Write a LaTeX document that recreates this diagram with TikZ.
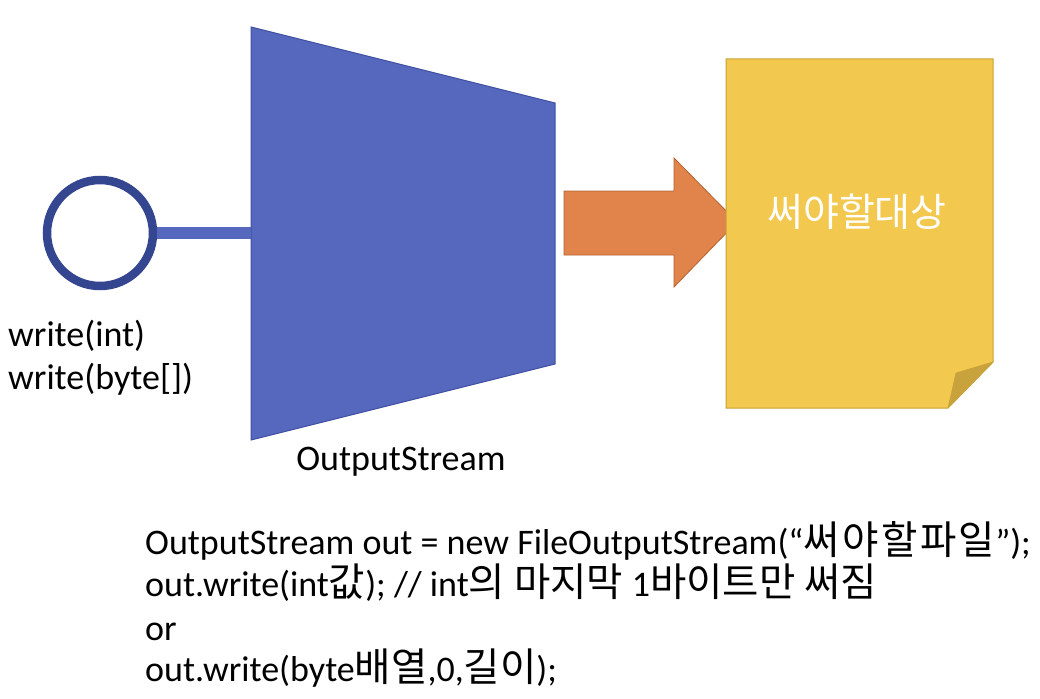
\documentclass[tikz,border=0pt]{standalone}
\usepackage{fontspec}
\setmainfont{Carlito}
\newfontfamily\kr{Noto Sans CJK KR}
\newcommand{\kk}[1]{{\kr\fontsize{39.5}{43}\selectfont #1}}
\newcommand{\kg}{\hspace{2.5pt}}
\definecolor{navy}{HTML}{34468F}
\definecolor{bluefill}{HTML}{5568BD}
\definecolor{blueedge}{HTML}{3F51A0}
\definecolor{orfill}{HTML}{E0844C}
\definecolor{oredge}{HTML}{B5622E}
\definecolor{yelfill}{HTML}{F2C84F}
\definecolor{yeledge}{HTML}{C9A235}
\definecolor{yelfold}{HTML}{C8A23C}
\tikzset{
  txt/.style={font=\fontsize{36}{43}\selectfont, inner sep=0pt, text=black, anchor=base west},
}
\begin{document}
\begin{tikzpicture}[x=1pt,y=-1pt]
\useasboundingbox (0,0) rectangle (1040,698);
\fill[white] (0,0) rectangle (1040,698);
% trapezoid
\coordinate (tl) at (251,27);
\coordinate (tr) at (555,103);
\coordinate (br) at (555,364);
\coordinate (bl) at (251,440);
\coordinate (tin) at (251,233);
\filldraw[fill=bluefill, draw=blueedge, line width=1pt] (tl) -- (tr) -- (br) -- (bl) -- cycle;
% circle and stem
\node[circle, draw=navy, line width=8.5pt, fill=white, minimum size=106pt, inner sep=0pt] (c) at (100,233) {};
\draw[bluefill, line width=12pt] (c.east) -- (tin);
% arrow
\filldraw[fill=orfill, draw=oredge, line width=0.8pt]
  (564,191) -- (674,191) -- (674,158) -- (737,222) -- (674,287) -- (674,255) -- (564,255) -- cycle;
% document
\filldraw[fill=yelfill, draw=yeledge, line width=1pt]
  (726,59) -- (993,59) -- (993,362) -- (948,408) -- (726,408) -- cycle;
\filldraw[fill=yelfold, draw=yeledge, line width=0.6pt]
  (993,362) -- (956,373) -- (948,408) -- cycle;
\node[font=\kr\fontsize{39}{43}\selectfont, text=white, inner sep=0pt] (target) at (857,212) {써야할대상};
% labels
\node[txt] (w1) at (8,346) {write(int)};
\node[txt] (w2) at (8,389) {write(byte[])};
\node[txt, anchor=base] (os) at (401,470) {OutputStream};
% code
\node[txt] (l1) at (145,554) {OutputStream out = new FileOutputStream(“\kk{써\kg 야\kg 할\kg 파\kg 일}”);};
\node[txt] (l2) at (145,596) {out.write(int\kk{값}); // int\kk{의 마지막 }1\kk{바이트만 써짐}};
\node[txt] (l3) at (145,640) {or};
\node[txt] (l4) at (145,681) {out.write(byte\kk{배열},0,\kk{길이});};
\end{tikzpicture}
\end{document}
